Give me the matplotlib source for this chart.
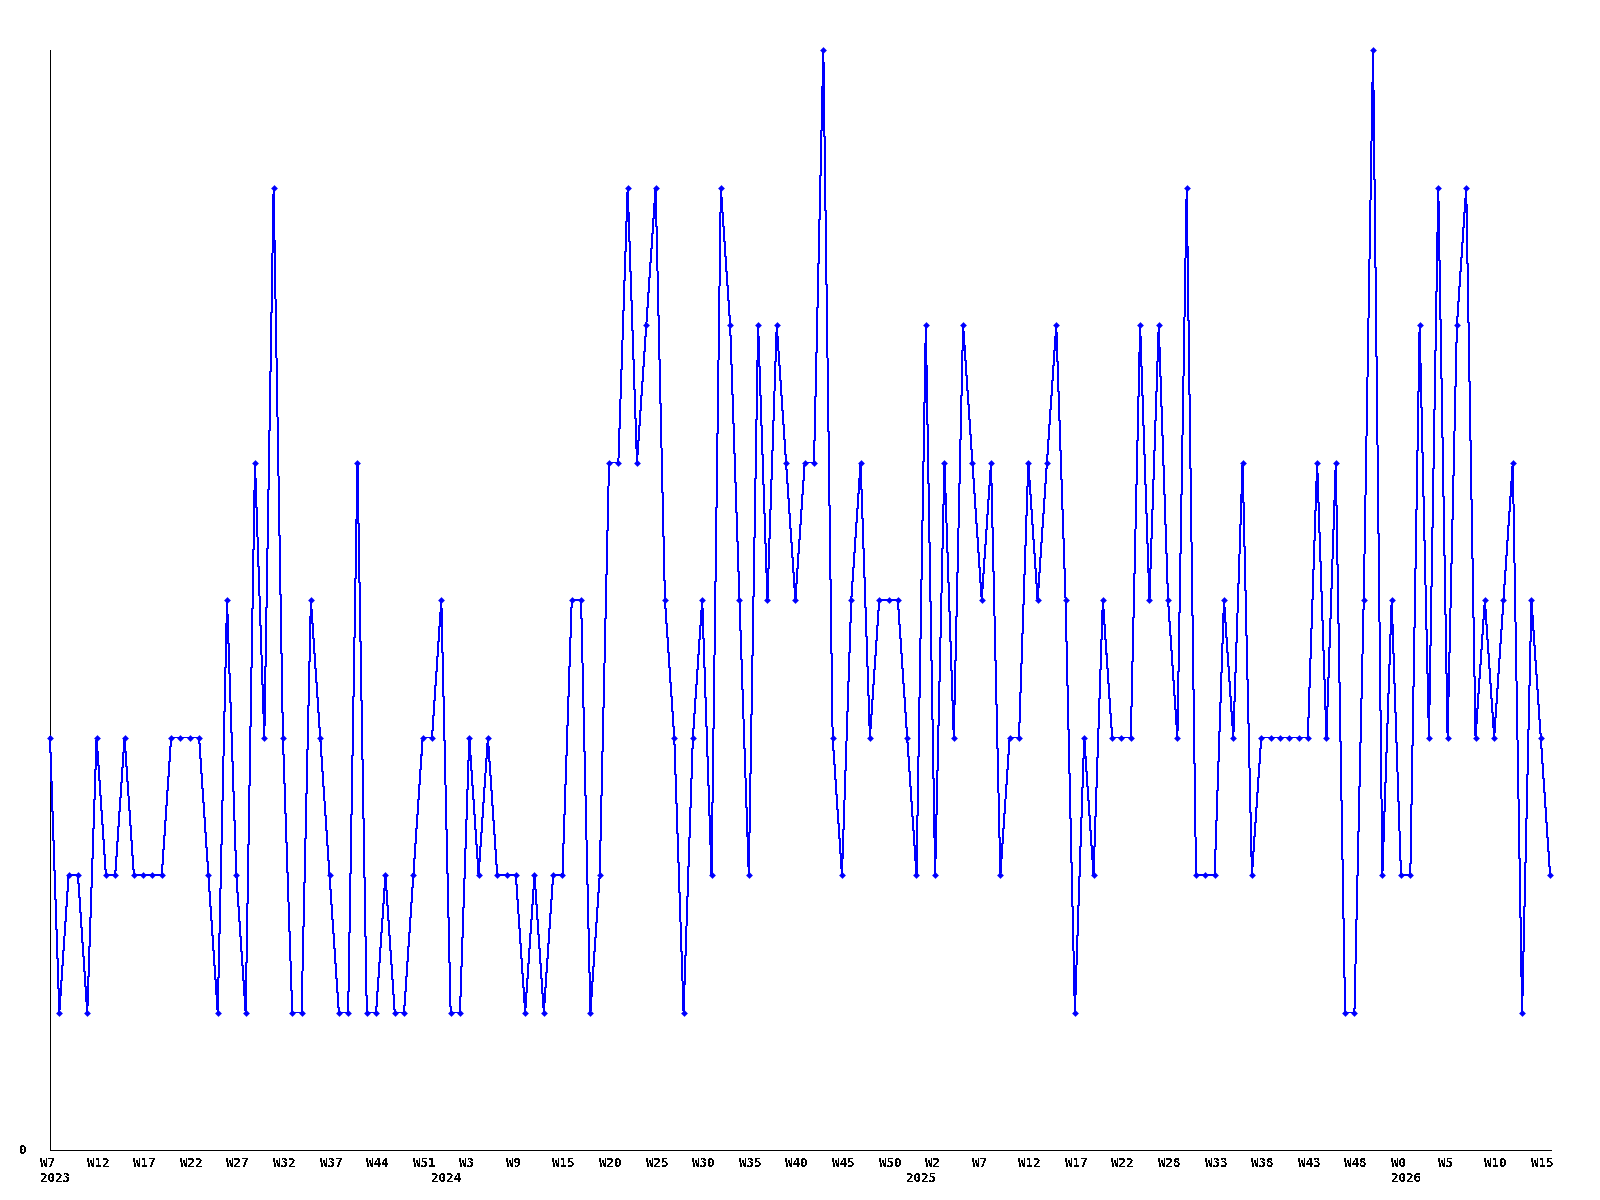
import matplotlib
matplotlib.use("Agg")
import matplotlib.pyplot as plt

# Weekly values (index 0 = 2023 W7 ... 161 points)
values = [
    3, 1, 2, 2, 1, 3, 2, 2, 3, 2,
    2, 2, 2, 3, 3, 3, 3, 2, 1, 4,
    2, 1, 5, 3, 7, 3, 1, 1, 4, 3,
    2, 1, 1, 5, 1, 1, 2, 1, 1, 2,
    3, 3, 4, 1, 1, 3, 2, 3, 2, 2,
    2, 1, 2, 1, 2, 2, 4, 4, 1, 2,
    5, 5, 7, 5, 6, 7, 4, 3, 1, 3,
    4, 2, 7, 6, 4, 2, 6, 4, 6, 5,
    4, 5, 5, 8, 3, 2, 4, 5, 3, 4,
    4, 4, 3, 2, 6, 2, 5, 3, 6, 5,
    4, 5, 2, 3, 3, 5, 4, 5, 6, 4,
    1, 3, 2, 4, 3, 3, 3, 6, 4, 6,
    4, 3, 7, 2, 2, 2, 4, 3, 5, 2,
    3, 3, 3, 3, 3, 3, 5, 3, 5, 1,
    1, 4, 8, 2, 4, 2, 2, 6, 3, 7,
    3, 6, 7, 3, 4, 3, 4, 5, 1, 4,
    3, 2,
]

week_labels = ["W7", "W12", "W17", "W22", "W27", "W32", "W37", "W44", "W51",
               "W3", "W9", "W15", "W20", "W25", "W30", "W35", "W40", "W45",
               "W50", "W2", "W7", "W12", "W17", "W22", "W28", "W33", "W38",
               "W43", "W48", "W0", "W5", "W10", "W15"]
week_label_idx = list(range(0, 161, 5))

year_labels = ["2023", "2024", "2025", "2026"]
year_label_idx = [0, 42, 93, 145]

plt.rcParams['text.antialiased'] = False
fig = plt.figure(figsize=(16, 12), dpi=100)
ax = fig.add_axes([50 / 1600, 50 / 1200, 1501 / 1600, 1100 / 1200])

xs = list(range(len(values)))
ax.plot(xs, values, color=(0, 0, 1), linewidth=0.72, marker='D', markersize=3,
        markerfacecolor=(0, 0, 1), markeredgecolor=(0, 0, 1), markeredgewidth=0.4,
        antialiased=False, clip_on=False, zorder=3)

ax.set_xlim(0, 161.1)
ax.set_ylim(0, 8)
ax.spines['top'].set_visible(False)
ax.spines['right'].set_visible(False)
for s in ('left', 'bottom'):
    ax.spines[s].set_linewidth(0.72)
    ax.spines[s].set_color('black')
    ax.spines[s].set_antialiased(False)
ax.set_xticks([])
ax.set_yticks([])

font = dict(family='DejaVu Sans Mono', weight='bold', size=9, color='black')

for i, lab in zip(week_label_idx, week_labels):
    ax.annotate(lab, xy=(i, 0), xycoords=('data', 'axes fraction'),
                xytext=(-7.2, -9.5), textcoords='offset points',
                ha='left', va='center', annotation_clip=False, **font)

for i, lab in zip(year_label_idx, year_labels):
    ax.annotate(lab, xy=(i, 0), xycoords=('data', 'axes fraction'),
                xytext=(-7.2, -20.5), textcoords='offset points',
                ha='left', va='center', annotation_clip=False, **font)

ax.annotate("0", xy=(0, 0), xycoords='axes fraction',
            xytext=(-19.7, -0.5), textcoords='offset points',
            ha='center', va='center', annotation_clip=False, **font)

fig.savefig("out.png", dpi=100, facecolor='white')
